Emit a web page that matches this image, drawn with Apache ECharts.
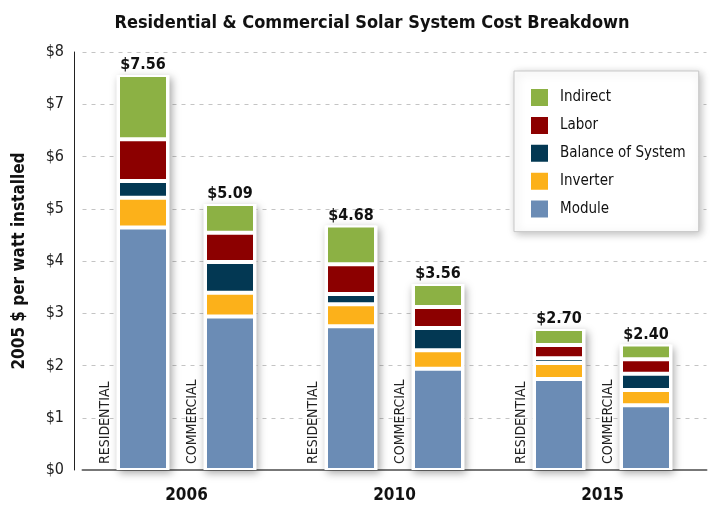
<!DOCTYPE html>
<html>
<head>
<meta charset="utf-8">
<script src="https://cdn.jsdelivr.net/npm/echarts@6/dist/echarts.min.js"></script>
<style>
html, body { margin: 0; padding: 0; background: #fff; }
#chart { width: 710px; height: 508px; }
</style>
</head>
<body>
<div id="chart"></div>
<script>
var years = ['2006', '2010', '2015'];
var parts = ['Indirect', 'Labor', 'Balance of System', 'Inverter', 'Module'];

// residential, bottom to top ($ per watt)
var resModule   = [4.64, 2.75, 1.74];
var resInverter = [0.57, 0.42, 0.31];
var resBos      = [0.32, 0.20, 0.09];
var resLabor    = [0.80, 0.57, 0.25];
var resIndirect = [1.23, 0.74, 0.31];
var resTotal    = [7.56, 4.68, 2.70];

// commercial
var comModule   = [2.94, 1.94, 1.24];
var comInverter = [0.45, 0.35, 0.29];
var comBos      = [0.59, 0.43, 0.31];
var comLabor    = [0.56, 0.40, 0.28];
var comIndirect = [0.55, 0.44, 0.28];
var comTotal    = [5.09, 3.56, 2.40];

var font = "'DejaVu Sans Condensed', 'Liberation Sans', sans-serif";
var colors = {
  'Indirect': '#8cb144',
  'Labor': '#8c0000',
  'Balance of System': '#033853',
  'Inverter': '#fcb11a',
  'Module': '#6b8cb5'
};

function seg(name, stack, data, label) {
  var s = {
    name: name,
    type: 'bar',
    stack: stack,
    xAxisIndex: 0,
    barWidth: 50,
    barGap: '74%',
    z: 3,
    itemStyle: { color: colors[name], borderColor: '#fff', borderWidth: 2 },
    data: data
  };
  if (label) {
    // rotated text sits just left of the bar, reading upwards
    s.label = {
      show: true,
      formatter: label,
      rotate: 90,
      position: [-6, '100%'],
      offset: [6, 0],
      align: 'left',
      verticalAlign: 'bottom',
      fontFamily: font,
      fontSize: 14,
      color: '#222'
    };
  }
  return s;
}

function back(name, data) {
  return {
    name: name,
    type: 'bar',
    xAxisIndex: 1,
    barWidth: 53,
    barGap: '64.15%',
    z: 1,
    itemStyle: {
      color: '#fff',
      shadowBlur: 8,
      shadowColor: 'rgba(0,0,0,0.35)',
      shadowOffsetX: 2,
      shadowOffsetY: 3
    },
    label: {
      show: true,
      position: 'top',
      distance: 2,
      formatter: function (p) { return '$' + p.value.toFixed(2); },
      fontFamily: font,
      fontWeight: 'bold',
      fontSize: 16,
      color: '#111'
    },
    data: data
  };
}

var option = {
  animation: false,
  title: {
    text: 'Residential & Commercial Solar System Cost Breakdown',
    left: 367,
    textAlign: 'center',
    top: 9,
    textStyle: { fontFamily: font, fontWeight: 'bold', fontSize: 18, color: '#111' }
  },
  legend: {
    data: parts,
    orient: 'vertical',
    left: 514,
    top: 71,
    icon: 'rect',
    itemWidth: 19,
    itemHeight: 19,
    itemGap: 6.9,
    padding: [16, 13, 12, 15],
    selectedMode: false,
    backgroundColor: '#fff',
    borderColor: '#c8c8c8',
    borderWidth: 1,
    shadowBlur: 8,
    shadowColor: 'rgba(0,0,0,0.25)',
    shadowOffsetX: 2,
    shadowOffsetY: 2,
    textStyle: { fontFamily: font, fontSize: 15, color: '#111', padding: [0, 0, 0, 6] }
  },
  grid: { left: 82.5, right: 3.5, top: 52, bottom: 38 },
  xAxis: [
    {
      type: 'category',
      data: years,
      axisLine: { lineStyle: { color: '#777', width: 2 } },
      axisTick: { show: false },
      axisLabel: { margin: 17, fontFamily: font, fontWeight: 'bold', fontSize: 17, color: '#111' }
    },
    { type: 'category', data: years, show: false }
  ],
  yAxis: {
    type: 'value',
    min: 0,
    max: 8,
    interval: 1,
    offset: 8.5,
    name: '2005 $ per watt installed',
    nameLocation: 'middle',
    nameGap: 46,
    nameTextStyle: { fontFamily: font, fontWeight: 'bold', fontSize: 17, color: '#111' },
    axisLine: { show: true, lineStyle: { color: '#222', width: 1 } },
    axisTick: { show: false },
    axisLabel: {
      margin: 10,
      formatter: '${value}',
      fontFamily: font,
      fontSize: 16,
      color: '#222'
    },
    splitLine: { lineStyle: { color: '#c4c4c4', type: [4, 5] } }
  },
  series: [
    back('resBack', resTotal),
    back('comBack', comTotal),
    seg('Module', 'res', resModule, 'RESIDENTIAL'),
    seg('Inverter', 'res', resInverter),
    seg('Balance of System', 'res', resBos),
    seg('Labor', 'res', resLabor),
    seg('Indirect', 'res', resIndirect),
    seg('Module', 'com', comModule, 'COMMERCIAL'),
    seg('Inverter', 'com', comInverter),
    seg('Balance of System', 'com', comBos),
    seg('Labor', 'com', comLabor),
    seg('Indirect', 'com', comIndirect)
  ]
};

var chart = echarts.init(document.getElementById('chart'));
chart.setOption(option);
</script>
</body>
</html>
